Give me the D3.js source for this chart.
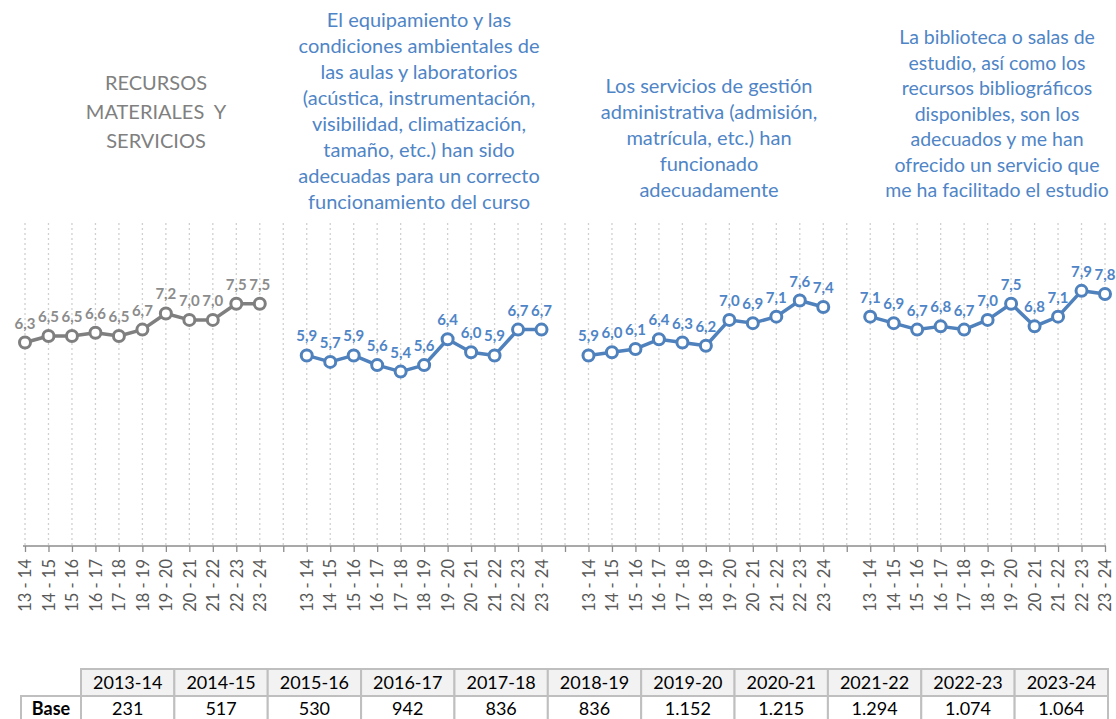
<!DOCTYPE html>
<html>
<head>
<meta charset="utf-8">
<script src="https://cdn.jsdelivr.net/npm/d3@7"></script>
<style>
    body { margin: 0; background: #ffffff; }
    svg { display: block; }
</style>
</head>
<body>
<div id="chart"></div>
<script>
// chart data
var seasons = ['13 - 14', '14 - 15', '15 - 16', '16 - 17', '17 - 18', '18 - 19', '19 - 20', '20 - 21', '21 - 22', '22 - 23', '23 - 24'];
var recursos = [6.3, 6.5, 6.5, 6.6, 6.5, 6.7, 7.2, 7.0, 7.0, 7.5, 7.5];
var equipamiento = [5.9, 5.7, 5.9, 5.6, 5.4, 5.6, 6.4, 6.0, 5.9, 6.7, 6.7];
var gestion = [5.9, 6.0, 6.1, 6.4, 6.3, 6.2, 7.0, 6.9, 7.1, 7.6, 7.4];
var biblioteca = [7.1, 6.9, 6.7, 6.8, 6.7, 7.0, 7.5, 6.8, 7.1, 7.9, 7.8];

var titleRecursos = ['RECURSOS', 'MATERIALES  Y', 'SERVICIOS'];
var titleEquipamiento = ['El equipamiento y las', 'condiciones ambientales de', 'las aulas y laboratorios',
    '(acústica, instrumentación,', 'visibilidad, climatización,', 'tamaño, etc.) han sido',
    'adecuadas para un correcto', 'funcionamiento del curso'];
var titleGestion = ['Los servicios de gestión', 'administrativa (admisión,', 'matrícula, etc.) han', 'funcionado', 'adecuadamente'];
var titleBiblioteca = ['La biblioteca o salas de', 'estudio, así como los', 'recursos bibliográficos', 'disponibles, son los',
    'adecuados y me han', 'ofrecido un servicio que', 'me ha facilitado el estudio'];

var courses = ['2013-14', '2014-15', '2015-16', '2016-17', '2017-18', '2018-19', '2019-20', '2020-21', '2021-22', '2022-23', '2023-24'];
var bases = ['231', '517', '530', '942', '836', '836', '1.152', '1.215', '1.294', '1.074', '1.064'];

var GRAY = '#7f7f7f', BLUE = '#4f81bd', BLUE_TEXT = '#4f85c6';
var FONT = 'Lato, "Open Sans", sans-serif';

var groups = [
    {key: 'rec', values: recursos, line: GRAY, text: '#8c8c8c', title: titleRecursos, tx: 156, ty: 90, lh: 29, fs: 20, tcolor: '#808080'},
    {key: 'equ', values: equipamiento, line: BLUE, text: BLUE_TEXT, title: titleEquipamiento, tx: 419, ty: 27, lh: 26, fs: 20, tcolor: BLUE_TEXT},
    {key: 'ges', values: gestion, line: BLUE, text: BLUE_TEXT, title: titleGestion, tx: 709, ty: 93, lh: 26, fs: 20, tcolor: BLUE_TEXT},
    {key: 'bib', values: biblioteca, line: BLUE, text: BLUE_TEXT, title: titleBiblioteca, tx: 997, ty: 44, lh: 25.5, fs: 19.5, tcolor: BLUE_TEXT}
];

// one category axis; the groups are separated by an empty slot
var slots = [];
groups.forEach(function(g, gi){
    if (gi > 0) { slots.push({id: 'gap' + gi, label: ''}); }
    seasons.forEach(function(s){ slots.push({id: g.key + s, label: s}); });
});

var width = 1116, height = 719;
var svg = d3.select('#chart').append('svg')
        .attr('width', width)
        .attr('height', height);

var x = d3.scalePoint()
        .domain(slots.map(function(d){ return d.id; }))
        .range([25, 1105]);

var y = d3.scaleLinear()
        .domain([0, 10])
        .range([546, 223]);

// dotted vertical gridlines
svg.append('g').selectAll('line')
        .data(slots)
        .enter().append('line')
        .attr('x1', function(d){ return x(d.id); })
        .attr('x2', function(d){ return x(d.id); })
        .attr('y1', y(10))
        .attr('y2', y(0))
        .attr('stroke', '#d0d0d0')
        .attr('stroke-width', 1.3)
        .attr('stroke-dasharray', '2,3');

// category axis
var axis = svg.append('g')
        .attr('transform', 'translate(0,' + y(0) + ')')
        .call(d3.axisBottom(x).tickSizeInner(6).tickSizeOuter(0).tickFormat(function(id){
            var s = slots.find(function(d){ return d.id == id; });
            return s.label;
        }));
axis.select('.domain').attr('stroke', '#8c8c8c').attr('stroke-width', 1.3).attr('d', 'M23,0H1106');
axis.selectAll('.tick line').attr('stroke', '#8c8c8c').attr('stroke-width', 1.3);
axis.selectAll('.tick text')
        .attr('transform', 'rotate(-90)')
        .attr('x', -13)
        .attr('y', 0)
        .attr('dy', '0.35em')
        .attr('text-anchor', 'end')
        .attr('fill', '#595959')
        .style('font', '16.5px ' + FONT);

// series
var line = d3.line()
        .x(function(d){ return x(d.id); })
        .y(function(d){ return y(d.v); });

groups.forEach(function(g){
    var pts = g.values.map(function(v, i){ return {id: g.key + seasons[i], v: v}; });
    var layer = svg.append('g').attr('class', 'series-' + g.key);

    layer.append('path')
            .datum(pts)
            .attr('d', line)
            .attr('fill', 'none')
            .attr('stroke', g.line)
            .attr('stroke-width', 3.5)
            .attr('stroke-linejoin', 'round');

    layer.selectAll('circle')
            .data(pts)
            .enter().append('circle')
            .attr('cx', function(d){ return x(d.id); })
            .attr('cy', function(d){ return y(d.v); })
            .attr('r', 5.5)
            .attr('fill', '#ffffff')
            .attr('stroke', g.line)
            .attr('stroke-width', 3);

    layer.selectAll('text')
            .data(pts)
            .enter().append('text')
            .attr('x', function(d){ return x(d.id); })
            .attr('y', function(d){ return y(d.v) - 14; })
            .attr('text-anchor', 'middle')
            .attr('fill', g.text)
            .style('font', 'bold 15px ' + FONT)
            .text(function(d){ return d3.format('.1f')(d.v).replace('.', ','); });

    // group heading
    svg.append('g').selectAll('text')
            .data(g.title)
            .enter().append('text')
            .attr('x', g.tx)
            .attr('y', function(d, i){ return g.ty + i * g.lh; })
            .attr('text-anchor', 'middle')
            .attr('fill', g.tcolor)
            .style('font', g.fs + 'px ' + FONT)
            .style('white-space', 'pre')
            .text(function(d){ return d; });
});

// base table
var tLeft = 81, colW = (1108 - 81) / courses.length, headTop = 669, rowH = 27;
var table = svg.append('g').attr('class', 'base-table');
courses.forEach(function(c, i){
    var cx = tLeft + i * colW;
    table.append('rect')
            .attr('x', cx).attr('y', headTop)
            .attr('width', colW).attr('height', rowH)
            .attr('fill', '#f2f2f2').attr('stroke', '#bfbfbf').attr('stroke-width', 2);
    table.append('text')
            .attr('x', cx + colW / 2).attr('y', headTop + 20)
            .attr('text-anchor', 'middle')
            .style('font', '18px ' + FONT)
            .text(c);
    table.append('rect')
            .attr('x', cx).attr('y', headTop + rowH)
            .attr('width', colW).attr('height', rowH)
            .attr('fill', '#ffffff').attr('stroke', '#bfbfbf').attr('stroke-width', 2);
    table.append('text')
            .attr('x', cx + colW / 2).attr('y', headTop + rowH + 19)
            .attr('text-anchor', 'middle')
            .style('font', '18px ' + FONT)
            .text(bases[i]);
});
table.append('rect')
        .attr('x', 21).attr('y', headTop + rowH)
        .attr('width', tLeft - 21).attr('height', rowH)
        .attr('fill', '#ffffff').attr('stroke', '#bfbfbf').attr('stroke-width', 2);
table.append('text')
        .attr('x', (21 + tLeft) / 2).attr('y', headTop + rowH + 19)
        .attr('text-anchor', 'middle')
        .style('font', 'bold 18px ' + FONT)
        .text('Base');
</script>
</body>
</html>
